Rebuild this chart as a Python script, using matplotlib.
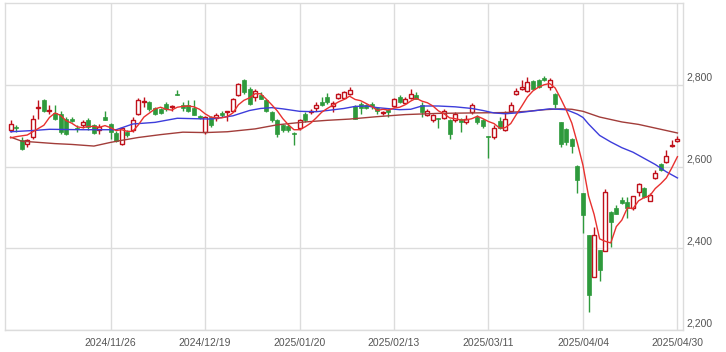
import matplotlib
matplotlib.use("Agg")
import matplotlib.pyplot as plt
from matplotlib.transforms import blended_transform_factory, offset_copy

# ---------------- data ----------------
dates = [
    "2024/10/30", "2024/10/31",
    "2024/11/01", "2024/11/05", "2024/11/06", "2024/11/07", "2024/11/08", "2024/11/11", "2024/11/12",
    "2024/11/13", "2024/11/14", "2024/11/15", "2024/11/18", "2024/11/19", "2024/11/20", "2024/11/21",
    "2024/11/22", "2024/11/25", "2024/11/26", "2024/11/27", "2024/11/28", "2024/11/29",
    "2024/12/02", "2024/12/03", "2024/12/04", "2024/12/05", "2024/12/06", "2024/12/09", "2024/12/10",
    "2024/12/11", "2024/12/12", "2024/12/13", "2024/12/16", "2024/12/17", "2024/12/18", "2024/12/19",
    "2024/12/20", "2024/12/23", "2024/12/24", "2024/12/25", "2024/12/26", "2024/12/27", "2024/12/30",
    "2025/01/06", "2025/01/07", "2025/01/08", "2025/01/09", "2025/01/10", "2025/01/14", "2025/01/15",
    "2025/01/16", "2025/01/17", "2025/01/20", "2025/01/21", "2025/01/22", "2025/01/23", "2025/01/24",
    "2025/01/27", "2025/01/28", "2025/01/29", "2025/01/30", "2025/01/31",
    "2025/02/03", "2025/02/04", "2025/02/05", "2025/02/06", "2025/02/07", "2025/02/10", "2025/02/12",
    "2025/02/13", "2025/02/14", "2025/02/17", "2025/02/18", "2025/02/19", "2025/02/20", "2025/02/21",
    "2025/02/25", "2025/02/26", "2025/02/27", "2025/02/28",
    "2025/03/03", "2025/03/04", "2025/03/05", "2025/03/06", "2025/03/07", "2025/03/10", "2025/03/11",
    "2025/03/12", "2025/03/13", "2025/03/14", "2025/03/17", "2025/03/18", "2025/03/19", "2025/03/21",
    "2025/03/24", "2025/03/25", "2025/03/26", "2025/03/27", "2025/03/28", "2025/03/31",
    "2025/04/01", "2025/04/02", "2025/04/03", "2025/04/04", "2025/04/07", "2025/04/08", "2025/04/09",
    "2025/04/10", "2025/04/11", "2025/04/14", "2025/04/15", "2025/04/16", "2025/04/17", "2025/04/18",
    "2025/04/21", "2025/04/22", "2025/04/23", "2025/04/24", "2025/04/25", "2025/04/28", "2025/04/30",
]

opens = [2690, 2697, 2664, 2656, 2672, 2742, 2762, 2737, 2732, 2729, 2717, 2717, 2693, 2702, 2713,
         2701, 2689, 2721, 2705, 2683, 2656, 2685, 2689, 2729, 2758, 2758, 2742, 2740, 2754, 2745,
         2778, 2751, 2750, 2742, 2723, 2685, 2721, 2719, 2732, 2734, 2735, 2774, 2811, 2790, 2770,
         2776, 2762, 2733, 2713, 2702, 2699, 2682, 2693, 2729, 2734, 2743, 2759, 2770, 2748, 2768,
         2768, 2778, 2748, 2754, 2750, 2754, 2742, 2731, 2738, 2748, 2770, 2756, 2768, 2774, 2751,
         2725, 2713, 2718, 2719, 2713, 2713, 2717, 2709, 2733, 2721, 2713, 2674, 2672, 2711, 2689,
         2737, 2777, 2789, 2784, 2808, 2811, 2816, 2794, 2778, 2709, 2691, 2667, 2601, 2534, 2433,
         2329, 2396, 2394, 2489, 2498, 2518, 2514, 2499, 2537, 2548, 2515, 2572, 2607, 2610, 2650,
         2662]
highs = [2713, 2701, 2672, 2668, 2725, 2762, 2764, 2750, 2750, 2737, 2720, 2720, 2701, 2713, 2719,
         2705, 2703, 2735, 2707, 2686, 2694, 2690, 2721, 2768, 2770, 2760, 2745, 2743, 2758, 2750,
         2788, 2758, 2762, 2762, 2725, 2724, 2724, 2731, 2735, 2737, 2768, 2805, 2813, 2794, 2789,
         2782, 2766, 2735, 2717, 2705, 2703, 2684, 2717, 2733, 2740, 2757, 2770, 2780, 2761, 2779,
         2784, 2795, 2751, 2758, 2754, 2758, 2746, 2737, 2740, 2768, 2774, 2770, 2789, 2782, 2757,
         2741, 2729, 2719, 2741, 2717, 2733, 2719, 2725, 2755, 2725, 2717, 2675, 2701, 2721, 2737,
         2758, 2791, 2811, 2819, 2811, 2813, 2821, 2816, 2781, 2710, 2693, 2669, 2603, 2536, 2433,
         2453, 2396, 2545, 2490, 2506, 2526, 2526, 2529, 2559, 2550, 2534, 2591, 2609, 2640, 2664,
         2674]
lows = [2685, 2685, 2640, 2648, 2668, 2717, 2733, 2729, 2713, 2680, 2676, 2708, 2685, 2693, 2689,
        2680, 2680, 2713, 2668, 2659, 2652, 2672, 2685, 2725, 2745, 2737, 2727, 2729, 2735, 2735,
        2774, 2737, 2733, 2725, 2716, 2680, 2697, 2711, 2722, 2711, 2733, 2772, 2778, 2750, 2760,
        2764, 2734, 2709, 2672, 2685, 2685, 2652, 2689, 2709, 2729, 2737, 2748, 2754, 2733, 2765,
        2765, 2776, 2715, 2729, 2740, 2740, 2729, 2725, 2721, 2746, 2756, 2752, 2766, 2764, 2721,
        2723, 2709, 2693, 2717, 2668, 2709, 2685, 2705, 2729, 2705, 2693, 2620, 2668, 2692, 2687,
        2735, 2774, 2786, 2782, 2789, 2793, 2808, 2786, 2744, 2648, 2652, 2632, 2536, 2437, 2244,
        2329, 2319, 2394, 2404, 2485, 2508, 2475, 2493, 2527, 2522, 2515, 2570, 2589, 2608, 2647,
        2660]
closes = [2705, 2693, 2644, 2664, 2717, 2745, 2737, 2739, 2717, 2685, 2680, 2711, 2691, 2710, 2697,
          2683, 2697, 2713, 2685, 2662, 2693, 2678, 2713, 2762, 2760, 2740, 2729, 2732, 2740, 2747,
          2775, 2742, 2737, 2727, 2719, 2722, 2701, 2727, 2725, 2736, 2766, 2803, 2782, 2754, 2784,
          2766, 2737, 2713, 2680, 2689, 2689, 2680, 2713, 2713, 2736, 2751, 2750, 2758, 2755, 2777,
          2782, 2788, 2717, 2742, 2742, 2748, 2735, 2733, 2733, 2766, 2758, 2766, 2777, 2766, 2733,
          2737, 2725, 2717, 2735, 2680, 2729, 2709, 2717, 2751, 2709, 2699, 2672, 2694, 2694, 2715,
          2750, 2784, 2795, 2807, 2790, 2795, 2811, 2812, 2754, 2656, 2659, 2650, 2567, 2481, 2285,
          2433, 2347, 2538, 2463, 2485, 2510, 2498, 2529, 2557, 2526, 2531, 2585, 2591, 2626, 2652,
          2668]

# short moving average (red), one value per day
ma_short = [2670, 2673, 2675, 2677, 2685, 2693, 2701, 2720, 2731, 2725, 2712, 2706, 2697, 2695, 2698,
            2698, 2696, 2700, 2695, 2688, 2690, 2686, 2686, 2702, 2721, 2731, 2741, 2745, 2740, 2738,
            2745, 2747, 2748, 2746, 2740, 2729, 2721, 2719, 2719, 2722, 2731, 2751, 2762, 2768, 2778,
            2778, 2765, 2751, 2736, 2717, 2702, 2690, 2690, 2697, 2706, 2719, 2733, 2742, 2750, 2758,
            2764, 2772, 2764, 2761, 2754, 2747, 2737, 2740, 2738, 2743, 2745, 2751, 2760, 2767, 2760,
            2756, 2748, 2736, 2729, 2719, 2717, 2714, 2714, 2717, 2723, 2717, 2710, 2705, 2694, 2695,
            2705, 2727, 2748, 2770, 2785, 2794, 2800, 2803, 2792, 2766, 2738, 2706, 2657, 2603, 2528,
            2483, 2423, 2417, 2413, 2453, 2469, 2499, 2497, 2516, 2524, 2528, 2546, 2558, 2572, 2597,
            2624]

# medium moving average (blue), read at sample days
ma_mid_day = [0, 4, 7, 13, 19, 22, 26, 30, 36, 40, 43, 45, 47, 49, 52, 55, 57, 60, 62, 64, 66, 70,
              72, 74, 77, 80, 83, 85, 87, 89, 91, 94, 97, 100, 102, 103, 104, 106, 108, 110, 112,
              114, 116, 118, 120]
ma_mid_val = [2685, 2688, 2691, 2690, 2690, 2704, 2708, 2718, 2716, 2724, 2737, 2742, 2744, 2741,
              2735, 2734, 2737, 2742, 2747, 2748, 2744, 2739, 2740, 2748, 2748, 2746, 2742, 2737,
              2731, 2729, 2731, 2736, 2741, 2739, 2728, 2720, 2704, 2676, 2660, 2646, 2635, 2620,
              2605, 2587, 2572]

# long moving average (brown), read at sample days
ma_long_day = [0, 2, 5, 8, 11, 15, 18, 20, 23, 27, 31, 35, 39, 44, 48, 53, 57, 61, 66, 71, 77, 83,
               89, 93, 96, 99, 101, 103, 106, 110, 113, 117, 120]
ma_long_val = [2672, 2662, 2659, 2656, 2654, 2650, 2659, 2664, 2671, 2678, 2684, 2683, 2685, 2692,
               2702, 2709, 2713, 2716, 2722, 2727, 2730, 2731, 2732, 2735, 2739, 2741, 2740, 2735,
               2721, 2709, 2703, 2691, 2682]

tick_dates = ["2024/11/26", "2024/12/19", "2025/01/20", "2025/02/13",
              "2025/03/11", "2025/04/04", "2025/04/30"]
y_ticks = [2200, 2400, 2600, 2800]

# ---------------- style ----------------
UP = "#c0101a"
DOWN = "#2e9a3c"
C_SHORT = "#e8312f"
C_MID = "#3d3ddb"
C_LONG = "#a23d3a"
GRID = "#dcdcdc"
TXT = "#555555"

W, H, DPI = 726, 352, 100
fig = plt.figure(figsize=(W / DPI, H / DPI), dpi=DPI)
ax = fig.add_axes([5 / W, 22 / H, 678 / W, 327 / H])

x = list(range(len(dates)))

# grid
for t in tick_dates:
    ax.axvline(dates.index(t), color=GRID, lw=1, zorder=0)
for v in y_ticks:
    ax.axhline(v, color=GRID, lw=1, zorder=0)

# candles
bw = 0.72
for i in x:
    o, h, l, c = opens[i], highs[i], lows[i], closes[i]
    if c >= o:
        ax.vlines(i, l, h, color=UP, lw=1, zorder=2)
        ax.bar(i, max(c - o, 1.2), bottom=o, width=bw, facecolor="white",
               edgecolor=UP, linewidth=1, zorder=2.5)
    else:
        ax.vlines(i, l, h, color=DOWN, lw=1, zorder=2)
        ax.bar(i, o - c, bottom=c, width=bw, facecolor=DOWN,
               edgecolor=DOWN, linewidth=0.5, zorder=2.5)

# moving averages
ax.plot(ma_long_day, ma_long_val, color=C_LONG, lw=1, zorder=3)
ax.plot(ma_mid_day, ma_mid_val, color=C_MID, lw=1, zorder=3)
ax.plot(x, ma_short, color=C_SHORT, lw=1, zorder=3)

ax.set_xlim(-1, len(dates))
ax.set_ylim(2200, 3000)

for s in ax.spines.values():
    s.set_color(GRID)
    s.set_linewidth(1)

ax.set_xticks([dates.index(t) for t in tick_dates])
ax.set_xticklabels(tick_dates, fontsize=7.5, color=TXT, family="Liberation Sans")
ax.tick_params(axis="x", length=0, pad=6)
ax.set_yticks([])

trans = blended_transform_factory(ax.transAxes, ax.transData)
trans = offset_copy(trans, fig=fig, x=3, y=7, units="dots")
for v in y_ticks:
    ax.text(1.0, v, f"{v:,}", transform=trans, ha="left", va="center",
            fontsize=7.5, color=TXT, family="Liberation Sans")

fig.savefig("out.png", dpi=DPI)
